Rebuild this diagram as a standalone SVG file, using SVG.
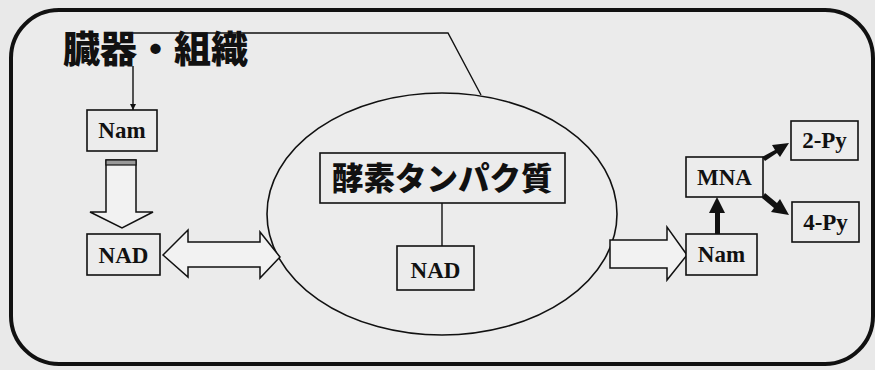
<svg xmlns="http://www.w3.org/2000/svg" width="875" height="370" viewBox="0 0 875 370">
<defs>
<style>
.bx{fill:#ececec;stroke:#111;stroke-width:1.6}
.lb{font-family:"Liberation Serif","Times New Roman",serif;font-weight:bold;font-size:23px;fill:#111;text-anchor:middle}
.jp{font-family:"Noto Sans CJK JP",sans-serif;font-weight:900;fill:#111}
.ln{fill:none;stroke:#111;stroke-width:1.4}
.ho{fill:#f2f2f2;stroke:#111;stroke-width:1.5;stroke-linejoin:miter}
.th{fill:#111;stroke:none}
</style>
<marker id="ah" viewBox="0 0 10 10" refX="10" refY="5" markerWidth="6" markerHeight="6" orient="auto" markerUnits="userSpaceOnUse"><path d="M0,0L10,5L0,10z" fill="#111"/></marker>
</defs>
<rect x="0" y="0" width="875" height="370" fill="#e9e9e9"/>
<rect id="frame" x="11" y="10" width="862" height="354" rx="48" ry="48" fill="#ebebeb" stroke="#111" stroke-width="4"/>
<g id="enzyme-ellipse"><ellipse cx="442" cy="214" rx="175" ry="121" fill="#ececec" stroke="#111" stroke-width="1.6"/></g>
<g id="connectors">
<path class="ln" d="M481,95 L448,33 L133,33"/>
<path class="ln" d="M133,66 L133,110" marker-end="url(#ah)"/>
<path class="ln" d="M442,203 L442,246"/>
<path class="ho" d="M106,160 L136,160 L136,212 L153,212 L122,228 L90,212 L106,212 Z"/>
<rect x="106" y="160" width="30" height="5" fill="#999" stroke="#111" stroke-width="1.2"/>
<path class="ho" d="M163,255 L188,230 L188,242 L260,242 L260,232 L280,257 L260,278 L260,267 L188,267 L188,277 Z"/>
<path class="ho" d="M610,240 L667,240 L667,227 L687,255 L667,280 L667,268 L610,268 Z"/>
<path class="th" d="M715,234 L715,213 L709,213 L717,197 L725,213 L720,213 L720,234 Z"/>
<path class="th" d="M762,157 L775,150 L772,145 L789,143 L780,157 L777,153 L765,161 Z"/>
<path class="th" d="M765,193 L777,203 L780,199 L789,215 L771,212 L774,208 L762,198 Z"/>
</g>
<g id="title"><text class="jp" x="63" y="63" font-size="37">臓器・組織</text></g>
<g id="nam-left"><rect class="bx" x="87" y="110" width="70" height="41"/><text class="lb" x="122" y="138">Nam</text></g>
<g id="nad-left"><rect class="bx" x="87" y="234" width="73" height="41"/><text class="lb" x="123.5" y="263">NAD</text></g>
<g id="enzyme"><rect class="bx" x="320" y="153" width="245" height="50"/><text class="jp" x="332" y="190" font-size="31.5">酵素タンパク質</text></g>
<g id="nad-center"><rect class="bx" x="397" y="246" width="77" height="44"/><text class="lb" x="435.5" y="278" font-size="25">NAD</text></g>
<g id="nam-right"><rect class="bx" x="686" y="234" width="71" height="41"/><text class="lb" x="721.5" y="262">Nam</text></g>
<g id="mna"><rect class="bx" x="686" y="157" width="77" height="40"/><text class="lb" x="724.5" y="185">MNA</text></g>
<g id="py2"><rect class="bx" x="791" y="121" width="67" height="39"/><text class="lb" x="824.5" y="148">2-Py</text></g>
<g id="py4"><rect class="bx" x="792" y="202" width="67" height="40"/><text class="lb" x="825.5" y="230">4-Py</text></g>
</svg>
